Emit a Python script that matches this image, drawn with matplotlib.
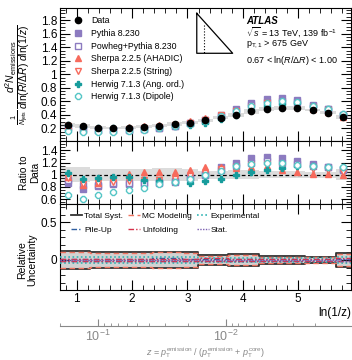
import numpy as np
import matplotlib
matplotlib.use("Agg")
import matplotlib.pyplot as plt
from matplotlib.ticker import MultipleLocator, FuncFormatter

plt.rcParams["font.family"] = ["Liberation Sans", "DejaVu Sans"]
plt.rcParams["mathtext.fontset"] = "custom"
plt.rcParams["mathtext.rm"] = "Liberation Sans"
plt.rcParams["mathtext.it"] = "Liberation Sans:italic"
plt.rcParams["mathtext.bf"] = "Liberation Sans:bold"

# 19 bins in ln(1/z)
edges = np.linspace(0.693, 5.956, 20)
centers = 0.5 * (edges[1:] + edges[:-1])

data = [0.245, 0.235, 0.21, 0.205, 0.21, 0.22, 0.24, 0.26, 0.285, 0.315,
        0.355, 0.40, 0.45, 0.485, 0.505, 0.505, 0.47, 0.43, 0.365]

# ratios MC / data
r_pythia = [0.86, 0.77, 0.82, 0.85, 0.85, 0.86, 0.87, 0.88, 0.96, 1.02,
            1.12, 1.20, 1.27, 1.29, 1.27, 1.23, 1.17, 1.12, 1.07]
r_powheg = [0.92, 0.83, 0.84, 0.86, 0.86, 0.87, 0.88, 0.89, 0.95, 1.00,
            1.08, 1.15, 1.20, 1.22, 1.20, 1.17, 1.14, 1.12, 1.10]
r_ahadic = [0.97, 0.83, 0.86, 0.94, 1.02, 1.04, 1.04, 1.04, 1.07, 1.12,
            1.13, 1.11, 1.13, 1.14, 1.08, 1.05, 1.02, 1.02, 0.99]
r_string = [0.95, 0.85, 0.86, 0.88, 0.90, 0.92, 0.92, 0.93, 0.98, 1.03,
            1.10, 1.13, 1.16, 1.17, 1.15, 1.12, 1.10, 1.08, 1.05]
r_hw_ang = [1.03, 0.93, 0.94, 0.96, 0.96, 0.92, 0.89, 0.88, 0.86, 0.89,
            0.93, 0.99, 1.04, 1.08, 1.11, 1.14, 1.14, 1.13, 1.12]
r_hw_dip = [0.67, 0.61, 0.67, 0.71, 0.75, 0.79, 0.85, 0.88, 0.93, 0.99,
            1.06, 1.15, 1.17, 1.19, 1.19, 1.16, 1.14, 1.12, 1.13]

# relative uncertainties
u_total = [0.12, 0.12, 0.10, 0.10, 0.10, 0.10, 0.11, 0.11, 0.10, 0.065,
           0.065, 0.075, 0.075, 0.055, 0.055, 0.055, 0.045, 0.045, 0.09]
u_mc = [0.11, 0.11, 0.09, 0.09, 0.09, 0.09, 0.10, 0.10, 0.09, 0.055,
        0.055, 0.065, 0.065, 0.045, 0.045, 0.045, 0.035, 0.035, 0.08]
u_exp = [0.04, 0.04, 0.035, 0.035, 0.035, 0.035, 0.035, 0.035, 0.035, 0.03,
         0.03, 0.03, 0.03, 0.03, 0.03, 0.03, 0.03, 0.03, 0.035]
u_pileup = [0.01, 0.01, 0.01, 0.01, 0.01, 0.015, 0.02, 0.02, 0.01, 0.01,
            0.01, 0.01, 0.01, 0.01, 0.01, 0.01, 0.01, 0.01, 0.01]
u_unfold = [0.015, 0.015, 0.015, 0.015, 0.015, 0.015, 0.015, 0.015, 0.015, 0.02,
            0.02, 0.015, 0.015, 0.015, 0.015, 0.015, 0.015, 0.015, 0.02]
u_stat = [0.006, 0.006, 0.006, 0.006, 0.006, 0.006, 0.006, 0.006, 0.006, 0.006,
          0.006, 0.006, 0.006, 0.006, 0.006, 0.006, 0.006, 0.006, 0.008]

c_py = "#8c7bc0"
c_sh = "#f76a5c"
c_hw = "#179c9c"
c_hd = "#55c6c6"

models = [
    ("Pythia 8.230", r_pythia, dict(marker="s", color=c_py, mfc=c_py)),
    ("Powheg+Pythia 8.230", r_powheg, dict(marker="s", color=c_py, mfc="white")),
    ("Sherpa 2.2.5 (AHADIC)", r_ahadic, dict(marker="^", color=c_sh, mfc=c_sh)),
    ("Sherpa 2.2.5 (String)", r_string, dict(marker="v", color=c_sh, mfc="white")),
    ("Herwig 7.1.3 (Ang. ord.)", r_hw_ang, dict(marker="P", color=c_hw, mfc=c_hw)),
    ("Herwig 7.1.3 (Dipole)", r_hw_dip, dict(marker="8", color=c_hd, mfc="white")),
]


def step(vals):
    xs = np.repeat(edges, 2)[1:-1]
    ys = np.repeat(np.asarray(vals, float), 2)
    return xs, ys


def style(ax, ymajor, yminor):
    ax.set_xlim(edges[0], edges[-1])
    ax.xaxis.set_major_locator(MultipleLocator(1))
    ax.xaxis.set_minor_locator(MultipleLocator(0.2))
    ax.yaxis.set_major_locator(MultipleLocator(ymajor))
    ax.yaxis.set_minor_locator(MultipleLocator(yminor))
    ax.yaxis.set_major_formatter(FuncFormatter(lambda v, p: f"{v:g}"))
    ax.tick_params(which="both", direction="in", top=True, right=True,
                   labelsize=8.5, pad=2)
    ax.tick_params(which="major", length=7)
    ax.tick_params(which="minor", length=3.5)


fig = plt.figure(figsize=(3.52, 3.6), dpi=100)
ax1 = fig.add_axes([0.170, 0.608, 0.827, 0.370])
ax2 = fig.add_axes([0.170, 0.433, 0.827, 0.175])
ax3 = fig.add_axes([0.170, 0.194, 0.827, 0.239])

data_arr = np.array(data)
tot = np.array(u_total)

# top panel
xs, lo = step(data_arr * (1 - tot))
xs, hi = step(data_arr * (1 + tot))
ax1.fill_between(xs, lo, hi, color="#dcdcdc", lw=0, zorder=1)
handles = []
for name, r, kw in models:
    h, = ax1.plot(centers, data_arr * np.array(r), ls="none", ms=4.5,
                  mew=1.0, zorder=3, label=name, **kw)
    handles.append(h)
hd, = ax1.plot(centers, data_arr, "o", color="black", ms=4.5, zorder=5, label="Data")
style(ax1, 0.2, 0.05)
ax1.set_ylim(0.01, 1.98)
ax1.tick_params(labelbottom=False)
ax1.set_ylabel(r"$\frac{1}{N_{\mathrm{jets}}}\,\dfrac{d^{2}N_{\mathrm{emissions}}}"
               r"{d\ln(R/\Delta R)\;d\ln(1/z)}$", fontsize=7.5)
ax1.yaxis.set_label_coords(-0.095, 0.5)
ax1.legend([hd] + handles, ["Data"] + [m[0] for m in models],
           loc="upper left", bbox_to_anchor=(0.03, 0.97), frameon=False,
           fontsize=6.3, handlelength=1.2, handletextpad=0.9,
           labelspacing=0.42, borderpad=0)

# lund triangle
fig.add_artist(plt.Line2D([0.559, 0.559, 0.661, 0.559], [0.963, 0.852, 0.852, 0.963],
                          color="black", lw=0.9, transform=fig.transFigure))
fig.add_artist(plt.Line2D([0.580, 0.580], [0.931, 0.852], color="black", lw=0.8,
                          ls=":", transform=fig.transFigure))

fig.text(0.700, 0.9425, "ATLAS", fontsize=7, fontweight="bold", style="italic", va="center")
fig.text(0.700, 0.910, r"$\sqrt{s}$ = 13 TeV, 139 fb$^{-1}$", fontsize=6.5, va="center")
fig.text(0.700, 0.878, r"p$_{\mathrm{T,1}}$ > 675 GeV", fontsize=6.5, va="center")
fig.text(0.700, 0.833, r"0.67 < ln($R$/$\Delta R$) < 1.00", fontsize=6.5, va="center")

# ratio panel
xs, lo = step(1 - tot)
xs, hi = step(1 + tot)
ax2.fill_between(xs, lo, hi, color="#dcdcdc", lw=0, zorder=1)
ax2.axhline(1, color="black", ls=(0, (3, 2)), lw=0.9, zorder=2)
for name, r, kw in models:
    ax2.plot(centers, r, ls="none", ms=4.5, mew=1.0, zorder=3, **kw)
style(ax2, 0.2, 0.05)
ax2.set_ylim(0.52, 1.55)
ax2.tick_params(labelbottom=False)
ax2.set_ylabel("Ratio to\nData", fontsize=7.2, linespacing=1.1)
ax2.yaxis.set_label_coords(-0.068, 0.5)

# uncertainty panel
xs, lo = step(-tot)
xs, hi = step(tot)
ax3.fill_between(xs, lo, hi, color="#d2d2d2", lw=0, zorder=1)
ax3.plot(xs, hi, color="#333333", lw=1.3, zorder=2, label="Total Syst.")
ax3.plot(xs, lo, color="#333333", lw=1.3, zorder=2)
comps = [
    ("MC Modeling", u_mc, dict(color="#f0735f", ls=(0, (4, 2.5)), lw=1.0)),
    ("Experimental", u_exp, dict(color="#33b5b5", ls=(0, (1, 1.5)), lw=1.2)),
    ("Pile-Up", u_pileup, dict(color="#2f5fa0", ls=(0, (4, 1.5, 1, 1.5)), lw=1.0)),
    ("Unfolding", u_unfold, dict(color="#d6304a", ls=(0, (4, 1.5, 1, 1.5)), lw=1.0)),
    ("Stat.", u_stat, dict(color="#7a5fb0", ls=(0, (1, 1)), lw=1.0)),
]
for name, u, kw in comps:
    xs, hi = step(u)
    ax3.plot(xs, hi, zorder=3, label=name, **kw)
    ax3.plot(xs, -hi, zorder=3, **kw)
style(ax3, 0.5, 0.1)
ax3.set_ylim(-0.4, 0.74)
ax3.set_ylabel("Relative\nUncertainty", fontsize=7.5, linespacing=1.1)
ax3.yaxis.set_label_coords(-0.076, 0.35)
h3, l3 = ax3.get_legend_handles_labels()
order = [0, 3, 1, 4, 2, 5]
ax3.legend([h3[i] for i in order], [l3[i] for i in order], ncol=3,
           loc="upper left", bbox_to_anchor=(0.023, 0.96), frameon=False,
           fontsize=6, handlelength=1.4, handletextpad=0.25,
           columnspacing=0.6, labelspacing=0.75, borderpad=0)

fig.text(0.997, 1 - 313 / 360, "ln(1/z)", fontsize=8.5, ha="right", va="center")

# z axis
ax4 = fig.add_axes([0.170, 1 - 326 / 360, 0.827, 0.0001])
ax4.patch.set_visible(False)
for s in ["top", "left", "right"]:
    ax4.spines[s].set_visible(False)
ax4.spines["bottom"].set_color("#888888")
ax4.set_xscale("log")
ax4.set_xlim(0.2, 0.00105)
ax4.set_yticks([])
ax4.tick_params(axis="x", which="both", direction="in", colors="#888888",
                labelsize=9, pad=2)
ax4.tick_params(axis="x", which="major", length=5)
ax4.tick_params(axis="x", which="minor", length=2.5)
ax4.set_xlabel(r"$z$ = $p_{\mathrm{T}}^{\mathrm{emission}}$ / ($p_{\mathrm{T}}^{\mathrm{emission}}$"
               r" + $p_{\mathrm{T}}^{\mathrm{core}}$)", color="#888888", fontsize=6.5, labelpad=1)

fig.savefig("out.png", dpi=100)
